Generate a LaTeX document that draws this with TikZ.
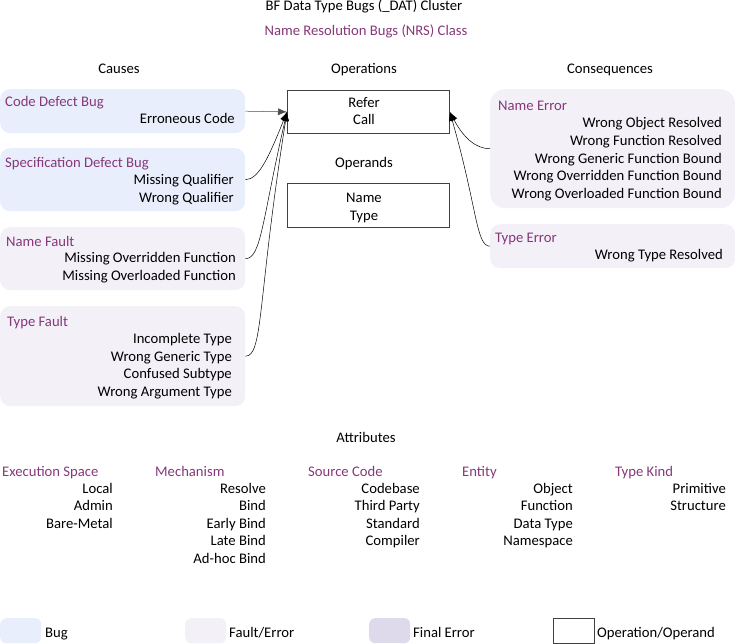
\documentclass[tikz,border=0pt]{standalone}
\usepackage{fontspec}
\setmainfont{Carlito}
\usetikzlibrary{arrows.meta}
\definecolor{bugfill}{RGB}{232,238,251}
\definecolor{faultfill}{RGB}{243,240,248}
\definecolor{finalfill}{RGB}{222,218,235}
\definecolor{nrspurple}{RGB}{134,56,122}

\tikzset{
  every node/.style={font=\fontsize{14.67}{17.6}\selectfont, inner sep=0pt},
  boxsize/.style 2 args={minimum width=#1, minimum height=#2, anchor=north west},
  bugbox/.style={fill=bugfill, rounded corners=10pt},
  faultbox/.style={fill=faultfill, rounded corners=10pt},
  opbox/.style={draw=black!75, line width=0.8pt},
  heading/.style={text=nrspurple, anchor=base west},
  item/.style={anchor=base east},
  sectitle/.style={anchor=base},
  link/.style={black, line width=0.5pt, -{Latex[length=9pt,width=7pt]}},
}

\begin{document}
\begin{tikzpicture}[x=1pt, y=-1pt]
    \useasboundingbox (0,0) rectangle (735,644);

    % titles
    \node[sectitle] (cluster) at (364,11) {BF Data Type Bugs (\_DAT) Cluster};
    \node[sectitle, text=nrspurple] (class) at (366,36) {Name Resolution Bugs (NRS) Class};
    \node[sectitle] (causes) at (119,74) {Causes};
    \node[sectitle] (operations) at (364,74) {Operations};
    \node[sectitle] (consequences) at (610,74) {Consequences};

    % causes
    \node[bugbox, boxsize={245pt}{44pt}] (codebug) at (0,89) {};
    \node[heading] (codebug-t) at (5,107) {Code Defect Bug};
    \node[item] (codebug-1) at (235,124) {Erroneous Code};

    \node[bugbox, boxsize={245pt}{63pt}] (specbug) at (0,148) {};
    \node[heading] (specbug-t) at (5,168) {Specification Defect Bug};
    \foreach \txt [count=\i] in {Missing Qualifier, Wrong Qualifier}
        \node[item] (specbug-\i) at (234,{185+17.6*(\i-1)}) {\txt};

    \node[faultbox, boxsize={245pt}{63pt}] (namefault) at (0,227) {};
    \node[heading] (namefault-t) at (6,246) {Name Fault};
    \foreach \txt [count=\i] in {Missing Overridden Function, Missing Overloaded Function}
        \node[item] (namefault-\i) at (236,{262.5+17.6*(\i-1)}) {\txt};

    \node[faultbox, boxsize={245pt}{100pt}] (typefault) at (0,306) {};
    \node[heading] (typefault-t) at (7,326) {Type Fault};
    \foreach \txt [count=\i] in {Incomplete Type, Wrong Generic Type, Confused Subtype, Wrong Argument Type}
        \node[item] (typefault-\i) at (232,{343.5+17.6*(\i-1)}) {\txt};

    % operations and operands
    \node[opbox, boxsize={162pt}{43pt}] (ops) at (287,90) {};
    \node[sectitle] (ops-1) at (364,108) {Refer};
    \node[sectitle] (ops-2) at (364,124.5) {Call};
    \node[sectitle] (operands) at (364,168) {Operands};
    \node[opbox, boxsize={162pt}{44pt}] (opds) at (287,183) {};
    \node[sectitle] (opds-1) at (364,203) {Name};
    \node[sectitle] (opds-2) at (364,220) {Type};

    % consequences
    \node[faultbox, rounded corners=15pt, boxsize={245pt}{119pt}] (nameerr) at (490,89) {};
    \node[heading] (nameerr-t) at (498,111) {Name Error};
    \foreach \txt [count=\i] in {Wrong Object Resolved, Wrong Function Resolved, Wrong Generic Function Bound, Wrong Overridden Function Bound, Wrong Overloaded Function Bound}
        \node[item] (nameerr-\i) at (722,{128+17.6*(\i-1)}) {\txt};

    \node[faultbox, boxsize={245pt}{44pt}] (typeerr) at (490,224) {};
    \node[heading] (typeerr-t) at (495,242) {Type Error};
    \node[item] (typeerr-1) at (723,259) {Wrong Type Resolved};

    % links
    \draw[link, black!70] (codebug.east) -- (ops.west);
    \draw[link] (specbug.east) to[out=0, in=-112, out distance=14pt, in distance=45pt] (ops.west);
    \draw[link] (namefault.east) to[out=0, in=-103, out distance=16pt, in distance=110pt] (ops.west);
    \draw[link] (typefault.east) to[out=0, in=-99, out distance=18pt, in distance=190pt] (ops.west);
    \draw[link] (nameerr.west) to[out=180, in=-62, out distance=14pt, in distance=30pt] (ops.east);
    \draw[link] (typeerr.west) to[out=180, in=-74, out distance=14pt, in distance=100pt] (ops.east);

    % attributes
    \node[sectitle] (attributes) at (366,442) {Attributes};
    \node[heading] (space) at (2,476) {Execution Space};
    \foreach \txt [count=\i] in {Local, Admin, Bare-Metal}
        \node[item] (space-\i) at (113,{493+17.6*(\i-1)}) {\txt};
    \node[heading] (mechanism) at (155,476) {Mechanism};
    \foreach \txt [count=\i] in {Resolve, Bind, Early Bind, Late Bind, Ad-hoc Bind}
        \node[item] (mechanism-\i) at (266,{493+17.6*(\i-1)}) {\txt};
    \node[heading] (source) at (308,476) {Source Code};
    \foreach \txt [count=\i] in {Codebase, Third Party, Standard, Compiler}
        \node[item] (source-\i) at (420,{493+17.6*(\i-1)}) {\txt};
    \node[heading] (entity) at (462,476) {Entity};
    \foreach \txt [count=\i] in {Object, Function, Data Type, Namespace}
        \node[item] (entity-\i) at (573,{493+17.6*(\i-1)}) {\txt};
    \node[heading] (typekind) at (615,476) {Type Kind};
    \foreach \txt [count=\i] in {Primitive, Structure}
        \node[item] (typekind-\i) at (726,{493+17.6*(\i-1)}) {\txt};

    % legend
    \node[bugbox, rounded corners=6pt, boxsize={41pt}{25pt}] (key-bug) at (0,618) {};
    \node[anchor=base west] (key-bug-t) at (45,637) {Bug};
    \node[faultbox, rounded corners=6pt, boxsize={41pt}{25pt}] (key-fault) at (185,618) {};
    \node[anchor=base west] (key-fault-t) at (229,637) {Fault/Error};
    \node[fill=finalfill, rounded corners=6pt, boxsize={41pt}{25pt}] (key-final) at (369,618) {};
    \node[anchor=base west] (key-final-t) at (413,637) {Final Error};
    \node[opbox, boxsize={41pt}{25pt}] (key-op) at (553,618) {};
    \node[anchor=base west] (key-op-t) at (597,637) {Operation/Operand};
\end{tikzpicture}
\end{document}
